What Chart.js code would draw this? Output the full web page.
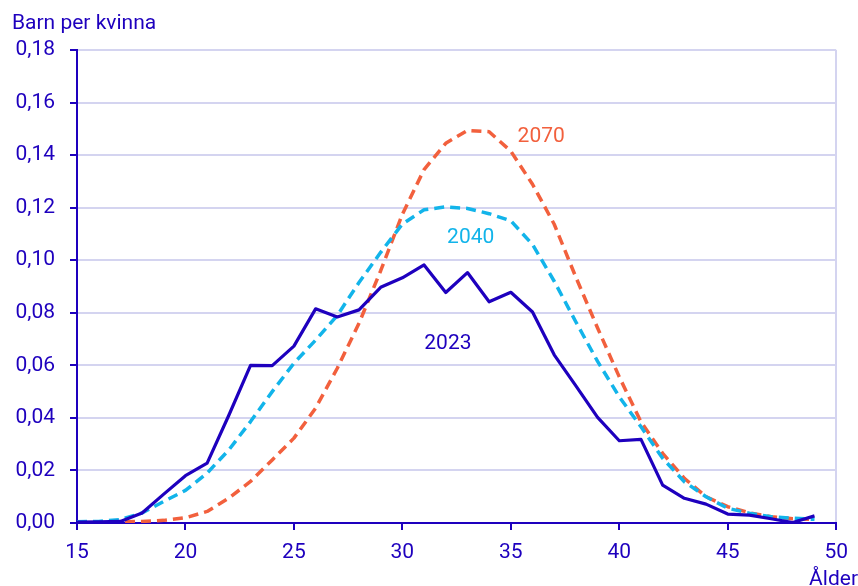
<!DOCTYPE html>
<html lang="sv">
<head>
    <meta charset="UTF-8">
    <title>Barn per kvinna efter ålder</title>
    <script src="https://cdn.jsdelivr.net/npm/chart.js"></script>
    <style>
        body { margin: 0; background: #fff; }
        #wrap { width: 858px; height: 586px; }
    </style>
</head>
<body>
    <div id="wrap"><canvas id="chart" width="858" height="586"></canvas></div>

    <script>
        // ålder 15-49
        const ages = [15,16,17,18,19,20,21,22,23,24,25,26,27,28,29,30,31,32,33,34,35,36,37,38,39,40,41,42,43,44,45,46,47,48,49];

        const y2023 = [0.0003,0.0004,0.0006,0.0038,0.0110,0.0180,0.0228,0.0410,0.0600,0.0599,0.0673,0.0815,0.0784,0.0811,0.0897,0.0933,0.0982,0.0877,0.0953,0.0842,0.0878,0.0803,0.0640,0.0522,0.0402,0.0313,0.0318,0.0144,0.0094,0.0072,0.0034,0.0030,0.0016,0.0002,0.0027];
        const y2040 = [0.0005,0.0006,0.0013,0.0038,0.0082,0.0124,0.0190,0.0278,0.0386,0.0500,0.0608,0.0696,0.0790,0.0915,0.1030,0.1138,0.1192,0.1203,0.1197,0.1177,0.1150,0.1060,0.0920,0.0765,0.0615,0.0480,0.0366,0.0246,0.0157,0.0100,0.0056,0.0037,0.0024,0.0018,0.0014];
        const y2070 = [0.0002,0.0002,0.0004,0.0006,0.0010,0.0020,0.0044,0.0095,0.0158,0.0240,0.0323,0.0437,0.0589,0.0760,0.0960,0.1175,0.1345,0.1445,0.1494,0.1489,0.1415,0.1289,0.1137,0.0935,0.0742,0.0556,0.0385,0.0265,0.0170,0.0100,0.0062,0.0039,0.0024,0.0016,0.0014];

        const seriesNames = ['2023', '2040', '2070'];
        // var etiketterna står i diagrammet (ålder, värde)
        const labelAt = [[32.1, 0.0684], [33.15, 0.1087], [36.4, 0.1468]];

        const BLUE = '#1e00be';
        const CYAN = '#12b4ea';
        const ORANGE = '#f2603d';
        const GRID = '#d4d4f0';
        const FONT = 'Roboto, "Open Sans", sans-serif';

        const pts = vals => ages.map((a, i) => ({ x: a, y: vals[i] }));

        const textPlugin = {
            id: 'texts',
            afterDatasetsDraw(chart) {
                const ctx = chart.ctx;
                const xs = chart.scales.x, ys = chart.scales.y;
                ctx.save();
                ctx.font = '21px ' + FONT;
                ctx.textAlign = 'left';
                ctx.textBaseline = 'alphabetic';
                ctx.fillStyle = BLUE;
                ctx.fillText('Barn per kvinna', 12, 29);
                ctx.textAlign = 'right';
                ctx.fillText('Ålder', 858, 585);

                ctx.textAlign = 'center';
                ctx.textBaseline = 'middle';
                chart.data.datasets.forEach((ds, i) => {
                    ctx.fillStyle = ds.borderColor;
                    ctx.fillText(seriesNames[i], xs.getPixelForValue(labelAt[i][0]), ys.getPixelForValue(labelAt[i][1]));
                });
                ctx.restore();
            }
        };

        new Chart(document.getElementById('chart').getContext('2d'), {
            type: 'line',
            data: {
                datasets: [
                    { label: seriesNames[0], data: pts(y2023), borderColor: BLUE, borderWidth: 3.2 },
                    { label: seriesNames[1], data: pts(y2040), borderColor: CYAN, borderWidth: 3.5, borderDash: [10, 6] },
                    { label: seriesNames[2], data: pts(y2070), borderColor: ORANGE, borderWidth: 3.5, borderDash: [10, 6] }
                ]
            },
            options: {
                responsive: false,
                animation: false,
                layout: { padding: { top: 50, right: 21, left: 0, bottom: 0 } },
                elements: { point: { radius: 0 }, line: { tension: 0, borderJoinStyle: 'round' } },
                plugins: { legend: { display: false }, tooltip: { enabled: false } },
                scales: {
                    x: {
                        type: 'linear', min: 15, max: 50,
                        afterFit: s => { s.height = 63; },
                        border: { color: BLUE, width: 2 },
                        grid: {
                            color: c => c.tick && c.tick.value === 50 ? GRID : 'transparent',
                            lineWidth: 2, tickColor: BLUE, tickLength: 7, tickWidth: 2
                        },
                        ticks: { stepSize: 5, color: BLUE, font: { family: FONT, size: 21 }, padding: 10, maxRotation: 0 }
                    },
                    y: {
                        min: 0, max: 0.18,
                        afterFit: s => { s.width = 77; },
                        border: { color: BLUE, width: 2 },
                        grid: { color: GRID, lineWidth: 2, tickColor: BLUE, tickLength: 7, tickWidth: 2 },
                        ticks: {
                            stepSize: 0.02, color: BLUE, padding: 15,
                            font: { family: FONT, size: 21 },
                            callback: v => v.toFixed(2).replace('.', ',')
                        }
                    }
                }
            },
            plugins: [textPlugin]
        });
    </script>
</body>
</html>
